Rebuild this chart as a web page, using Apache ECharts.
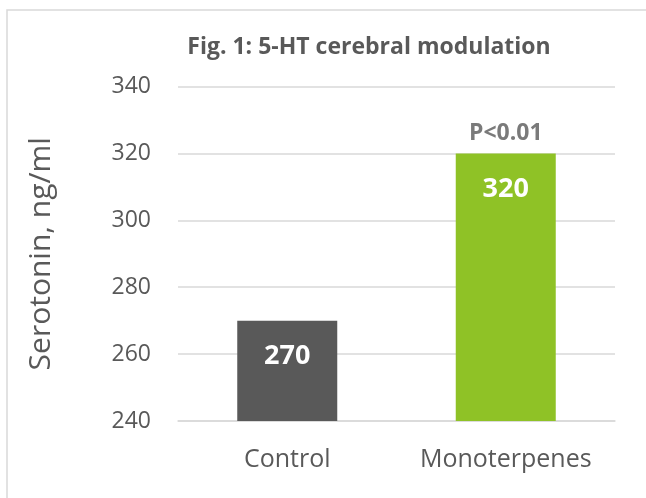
<!DOCTYPE html>
<html>
<head>
<meta charset="utf-8">
<script src="https://cdn.jsdelivr.net/npm/echarts@6/dist/echarts.min.js"></script>
<style>
  html, body { margin: 0; padding: 0; background: #fff; }
  #chart { width: 646px; height: 498px; }
</style>
</head>
<body>
<div id="chart"></div>
<script>
var categories = ['Control', 'Monoterpenes'];
var serotonin = [270, 320];
var barColors = ['#595959', '#8fc226'];
var yTicks = { min: 240, max: 340, interval: 20 };
var note = { category: 'Monoterpenes', value: 320, text: 'P<0.01' };

var chartDom = document.getElementById('chart');
var myChart = echarts.init(chartDom);

var font = "'Open Sans', sans-serif";

var option = {
    animation: false,
    backgroundColor: '#fff',
    title: {
        text: 'Fig. 1: 5-HT cerebral modulation',
        left: 364,
        textAlign: 'center',
        top: 31,
        textStyle: {
            fontFamily: font,
            fontSize: 23,
            fontWeight: 'bold',
            color: '#595959'
        }
    },
    graphic: [{
        type: 'rect',
        shape: { x: 7, y: 10, width: 800, height: 700 },
        style: { fill: 'none', stroke: '#d9d9d9', lineWidth: 1.5 },
        silent: true
    }],
    grid: {
        left: 178,
        right: 31,
        top: 86.5,
        bottom: 77
    },
    xAxis: {
        type: 'category',
        data: categories,
        axisLine: { lineStyle: { color: '#d9d9d9', width: 1.5 } },
        axisTick: { show: false },
        axisLabel: {
            interval: 0,
            hideOverlap: false,
            fontFamily: font,
            fontSize: 25,
            color: '#595959',
            margin: 26
        }
    },
    yAxis: {
        type: 'value',
        min: yTicks.min,
        max: yTicks.max,
        interval: yTicks.interval,
        name: 'Serotonin, ng/ml',
        nameLocation: 'middle',
        nameGap: 122,
        nameTextStyle: {
            fontFamily: font,
            fontSize: 30,
            color: '#595959'
        },
        axisLine: { show: false },
        axisTick: { show: false },
        axisLabel: {
            fontFamily: font,
            fontSize: 23,
            color: '#595959',
            margin: 27
        },
        splitLine: { lineStyle: { color: '#d9d9d9', width: 1.5 } }
    },
    series: [
        {
            type: 'bar',
            barWidth: 100,
            data: serotonin.map(function (v, i) {
                return { value: v, itemStyle: { color: barColors[i] } };
            }),
            label: {
                show: true,
                position: 'insideTop',
                distance: 22,
                fontFamily: font,
                fontSize: 27,
                fontWeight: 'bold',
                color: '#fff'
            }
        },
        {
            type: 'scatter',
            symbolSize: 0,
            data: [[note.category, note.value]],
            label: {
                show: true,
                position: 'top',
                distance: 8,
                formatter: note.text,
                fontFamily: font,
                fontSize: 23,
                fontWeight: 'bold',
                color: '#595959'
            }
        }
    ]
};

myChart.setOption(option);
</script>
</body>
</html>
